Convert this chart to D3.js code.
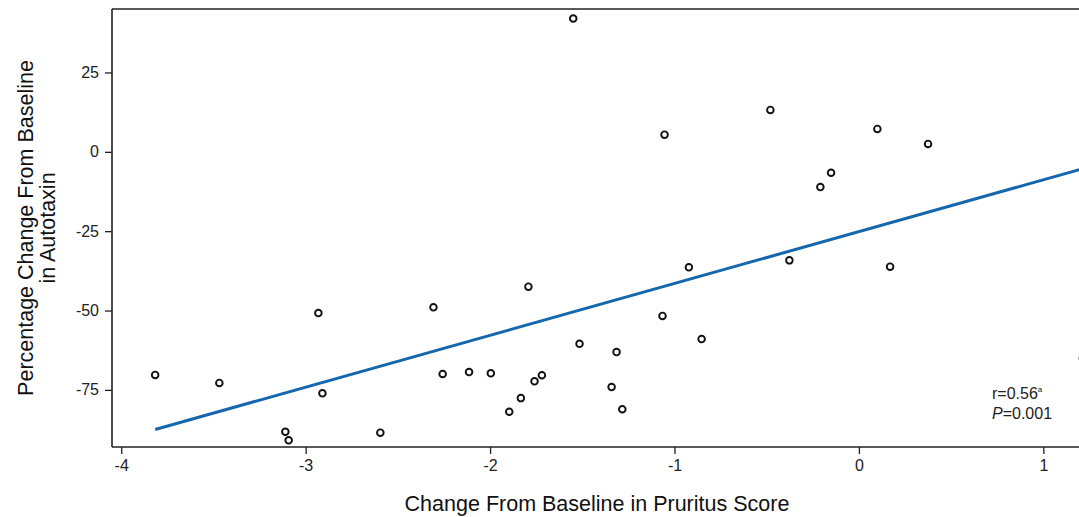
<!DOCTYPE html>
<html>
<head>
<meta charset="utf-8">
<script src="https://cdn.jsdelivr.net/npm/d3@7/dist/d3.min.js"></script>
<style>
  html, body { margin: 0; padding: 0; background: #fff; }
  svg { display: block; font-family: "Liberation Sans", Arial, sans-serif; }
</style>
</head>
<body>
<svg id="chart" width="1079" height="517"></svg>
<script>
// Data
const pruritusChange = [-3.816, -3.468, -2.931, -2.909, -3.110, -3.092, -2.595, -2.307, -2.257, -2.114,
  -1.996, -1.896, -1.833, -1.759, -1.719, -1.792, -1.515, -1.314, -1.341, -1.283,
  -1.065, -0.853, -0.922, -1.549, -1.054, -0.480, -0.377, -0.209, -0.151, 0.100,
  0.375, 0.169, 1.214];
const autotaxinChange = [-70.3, -72.8, -50.8, -76.1, -88.2, -90.9, -88.5, -49.0, -70.0, -69.4,
  -69.8, -81.9, -77.6, -72.3, -70.4, -42.5, -60.5, -63.1, -74.1, -81.1,
  -51.7, -59.0, -36.4, 42.0, 5.4, 13.2, -34.2, -11.1, -6.6, 7.2,
  2.5, -36.2, -65.1];
const fitLineX = [-3.816, 1.214];
const fitLineY = [-87.5, -5.3];
const xTicks = [-4, -3, -2, -1, 0, 1];
const yTicks = [25, 0, -25, -50, -75];
const xTitle = "Change From Baseline in Pruritus Score";
const yTitleLines = ["Percentage Change From Baseline", "in Autotaxin"];
const statLine1 = "r=0.56";
const statSup = "a";
const statLine2Italic = "P";
const statLine2 = "=0.001";

const svg = d3.select("#chart");
const mLeft = 112, mTop = 9, mBottom = 447, mRight = 1090;

const x = d3.scaleLinear().domain([-4.05, 1.253]).range([mLeft, mRight]);
const y = d3.scaleLinear().domain([-93, 45]).range([mBottom, mTop]);

const axisColor = "#222";
const fmt = d => String(d); // plain hyphen-minus as in the reference

// X axis
const gx = svg.append("g").attr("transform", `translate(0,${mBottom})`)
  .call(d3.axisBottom(x).tickValues(xTicks).tickSize(7).tickPadding(6).tickFormat(fmt));
// Y axis
const gy = svg.append("g").attr("transform", `translate(${mLeft},0)`)
  .call(d3.axisLeft(y).tickValues(yTicks).tickSize(7).tickPadding(6).tickFormat(fmt));

[gx, gy].forEach(g => {
  g.select(".domain").remove();
  g.selectAll(".tick line").attr("stroke", axisColor).attr("stroke-width", 1.3);
  g.selectAll(".tick text").attr("fill", "#222").style("font-size", "16px")
    .style("font-family", "'Liberation Sans', Arial, sans-serif");
});

// Frame lines (left, top, bottom)
svg.append("line").attr("x1", mLeft).attr("x2", mLeft).attr("y1", mTop).attr("y2", mBottom)
  .attr("stroke", axisColor).attr("stroke-width", 1.6);
svg.append("line").attr("x1", mLeft).attr("x2", mRight).attr("y1", mTop).attr("y2", mTop)
  .attr("stroke", axisColor).attr("stroke-width", 1.6);
svg.append("line").attr("x1", mLeft).attr("x2", mRight).attr("y1", mBottom).attr("y2", mBottom)
  .attr("stroke", axisColor).attr("stroke-width", 1.6);

// Regression line
svg.append("path")
  .datum(d3.zip(fitLineX, fitLineY))
  .attr("d", d3.line().x(d => x(d[0])).y(d => y(d[1])))
  .attr("fill", "none").attr("stroke", "#1467ad").attr("stroke-width", 3);

// Points
svg.append("g").selectAll("circle")
  .data(d3.zip(pruritusChange, autotaxinChange))
  .join("circle")
  .attr("cx", d => x(d[0])).attr("cy", d => y(d[1])).attr("r", 3.3)
  .attr("fill", "#fff").attr("stroke", "#111").attr("stroke-width", 1.9);

// Stats annotation
const st1 = svg.append("text").attr("x", 992).attr("y", 399).attr("fill", "#222").style("font-size", "16px");
st1.append("tspan").text(statLine1);
st1.append("tspan").text(statSup).attr("dy", -7).style("font-size", "8px");
const st2 = svg.append("text").attr("x", 992).attr("y", 419).attr("fill", "#222").style("font-size", "16px");
st2.append("tspan").text(statLine2Italic).style("font-style", "italic");
st2.append("tspan").text(statLine2);

// Axis titles
svg.append("text").attr("x", 597).attr("y", 511).attr("text-anchor", "middle")
  .attr("fill", "#111").style("font-size", "21.5px").text(xTitle);

const yt = svg.append("text").attr("transform", `translate(0,${(mTop + mBottom) / 2}) rotate(-90)`)
  .attr("text-anchor", "middle").attr("fill", "#111").style("font-size", "21.5px");
yt.append("tspan").attr("x", 0).attr("y", 33).text(yTitleLines[0]);
yt.append("tspan").attr("x", 0).attr("y", 55).text(yTitleLines[1]);
</script>
</body>
</html>
